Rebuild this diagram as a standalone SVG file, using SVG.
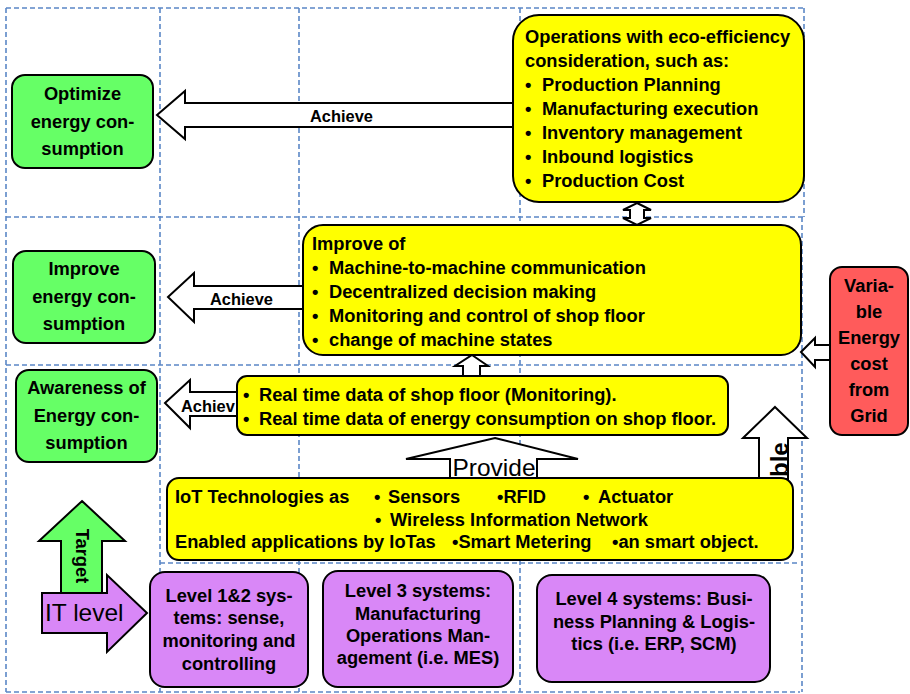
<svg xmlns="http://www.w3.org/2000/svg" width="910" height="694" viewBox="0 0 910 694">
<style>
.grid{stroke:#5B87C6;stroke-width:1.6;stroke-dasharray:5 3;fill:none}
.box{stroke:#000;stroke-width:2}
.g{fill:#66FF66}
.y{fill:#FFFF00}
.r{fill:#FF5B5B}
.p{fill:#D987F7}
.arr{fill:#fff;stroke:#000;stroke-width:2;stroke-linejoin:miter}
text{font-family:"Liberation Sans",Arial,sans-serif;fill:#000}
.t{font-size:18.3px;font-weight:bold}
.c{text-anchor:middle}
.a{font-size:16.4px;font-weight:bold}
.big{font-size:24.5px}
</style>
<g id="grid">
<path class="grid" d="M6,8H804M6,217H804M6,365H802M160,563H800M6,692H800"/>
<path class="grid" d="M6,8V692M160,8V692M299,8V692M520,8V692M804,8V217M802,217V692"/>
</g>
<g id="connectors">
<polygon class="arr" points="157,115 185,91 185,103 514,103 514,127 185,127 185,139"/>
<text class="a" x="310" y="122">Achieve</text>
<polygon class="arr" points="168,297 194,273 194,286 304,286 304,309 194,309 194,322"/>
<text class="a" x="210" y="305">Achieve</text>
<polygon class="arr" points="165,403 190,380 190,392 238,392 238,416 190,416 190,428"/>
<text class="a" x="181" y="412">Achiev</text>
<polygon class="arr" points="801,352 815,338 815,345 831,345 831,360 815,360 815,367"/>
<polygon class="arr" points="637,203 651,210 644,210 644,218 651,218 637,225 623,218 630,218 630,210 623,210"/>
<polygon class="arr" points="472,355 488,366 480,366 480,377 463,377 463,366 455,366"/>
<polygon class="arr" points="495,438 578,459 537,459 537,479 450,479 450,459 406,459"/>
<text class="big c" x="494" y="476">Provide</text>
<polygon class="arr" points="775,407 807,438 788,438 788,479 759,479 759,438 743,438"/>
<text transform="translate(788,477) rotate(-90)" style="font-size:24px;font-weight:bold">ble</text>
<polygon class="arr" style="fill:#66FF66" points="82,501 125,541 102,541 102,596 61,596 61,541 39,541"/>
<text class="t c" transform="translate(76,556) rotate(90)">Target</text>
<polygon class="arr" style="fill:#D987F7" points="42,593 107,593 107,575 147,613 107,652 107,633 42,633"/>
<text class="big" x="45" y="621">IT level</text>
</g>
<g id="optimize">
<rect class="box g" x="12" y="75" width="141" height="93" rx="13"/>
<text class="t c" x="82.5" y="100">Optimize</text>
<text class="t c" x="82.5" y="128">energy con-</text>
<text class="t c" x="82.5" y="155">sumption</text>
</g>
<g id="improve">
<rect class="box g" x="13" y="251" width="142" height="92" rx="13"/>
<text class="t c" x="84" y="275">Improve</text>
<text class="t c" x="84" y="303">energy con-</text>
<text class="t c" x="84" y="330">sumption</text>
</g>
<g id="awareness">
<rect class="box g" x="16" y="370" width="141" height="92" rx="13"/>
<text class="t c" x="86.5" y="394">Awareness of</text>
<text class="t c" x="86.5" y="422">Energy con-</text>
<text class="t c" x="86.5" y="449">sumption</text>
</g>
<g id="operations">
<rect class="box y" x="513" y="15" width="291" height="187" rx="26"/>
<text class="t" x="525" y="43">Operations with eco-efficiency</text>
<text class="t" x="525" y="67">consideration, such as:</text>
<text class="t" x="525" y="91">•</text><text class="t" x="542" y="91">Production Planning</text>
<text class="t" x="525" y="115">•</text><text class="t" x="542" y="115">Manufacturing execution</text>
<text class="t" x="525" y="139">•</text><text class="t" x="542" y="139">Inventory management</text>
<text class="t" x="525" y="163">•</text><text class="t" x="542" y="163">Inbound logistics</text>
<text class="t" x="525" y="187">•</text><text class="t" x="542" y="187">Production Cost</text>
</g>
<g id="improve-of">
<rect class="box y" x="303" y="225" width="498" height="130" rx="20"/>
<text class="t" x="312" y="250">Improve of</text>
<text class="t" x="312" y="274">•</text><text class="t" x="329" y="274">Machine-to-machine communication</text>
<text class="t" x="312" y="298">•</text><text class="t" x="329" y="298">Decentralized decision making</text>
<text class="t" x="312" y="322">•</text><text class="t" x="329" y="322">Monitoring and control of shop floor</text>
<text class="t" x="312" y="346">•</text><text class="t" x="329" y="346">change of machine states</text>
</g>
<g id="realtime">
<rect class="box y" x="237" y="376" width="491" height="59" rx="10"/>
<text class="t" x="243" y="401">•</text><text class="t" x="259" y="401">Real time data of shop floor (Monitoring).</text>
<text class="t" x="243" y="425">•</text><text class="t" x="259" y="425">Real time data of energy consumption on shop floor.</text>
</g>
<g id="iot">
<rect class="box y" x="167" y="478" width="626" height="82" rx="12"/>
<text class="t" x="175" y="503">IoT Technologies as</text>
<text class="t" x="374" y="503">•</text><text class="t" x="388" y="503">Sensors</text>
<text class="t" x="497" y="503">•RFID</text>
<text class="t" x="583" y="503">•</text><text class="t" x="598" y="503">Actuator</text>
<text class="t" x="375" y="526">•</text><text class="t" x="390" y="526">Wireless Information Network</text>
<text class="t" x="175" y="548">Enabled applications by IoTas</text>
<text class="t" x="452" y="548">•Smart Metering</text>
<text class="t" x="612" y="548">•an smart object.</text>
</g>
<g id="variable-energy">
<rect class="box r" x="830" y="267" width="78" height="168" rx="12"/>
<text class="t c" x="869" y="292">Varia-</text>
<text class="t c" x="869" y="318">ble</text>
<text class="t c" x="869" y="344">Energy</text>
<text class="t c" x="869" y="370">cost</text>
<text class="t c" x="869" y="396">from</text>
<text class="t c" x="869" y="422">Grid</text>
</g>
<g id="level12">
<rect class="box p" x="150" y="572" width="158" height="115" rx="15"/>
<text class="t c" x="229" y="602">Level 1&amp;2 sys-</text>
<text class="t c" x="229" y="624">tems: sense,</text>
<text class="t c" x="229" y="647">monitoring and</text>
<text class="t c" x="229" y="670">controlling</text>
</g>
<g id="level3">
<rect class="box p" x="323" y="571" width="190" height="116" rx="15"/>
<text class="t c" x="418" y="597">Level 3 systems:</text>
<text class="t c" x="418" y="620">Manufacturing</text>
<text class="t c" x="418" y="642">Operations Man-</text>
<text class="t c" x="418" y="664">agement (i.e. MES)</text>
</g>
<g id="level4">
<rect class="box p" x="537" y="575" width="233" height="107" rx="15"/>
<text class="t c" x="654" y="605">Level 4 systems: Busi-</text>
<text class="t c" x="654" y="628">ness Planning &amp; Logis-</text>
<text class="t c" x="654" y="650">tics (i.e. ERP, SCM)</text>
</g>
</svg>
